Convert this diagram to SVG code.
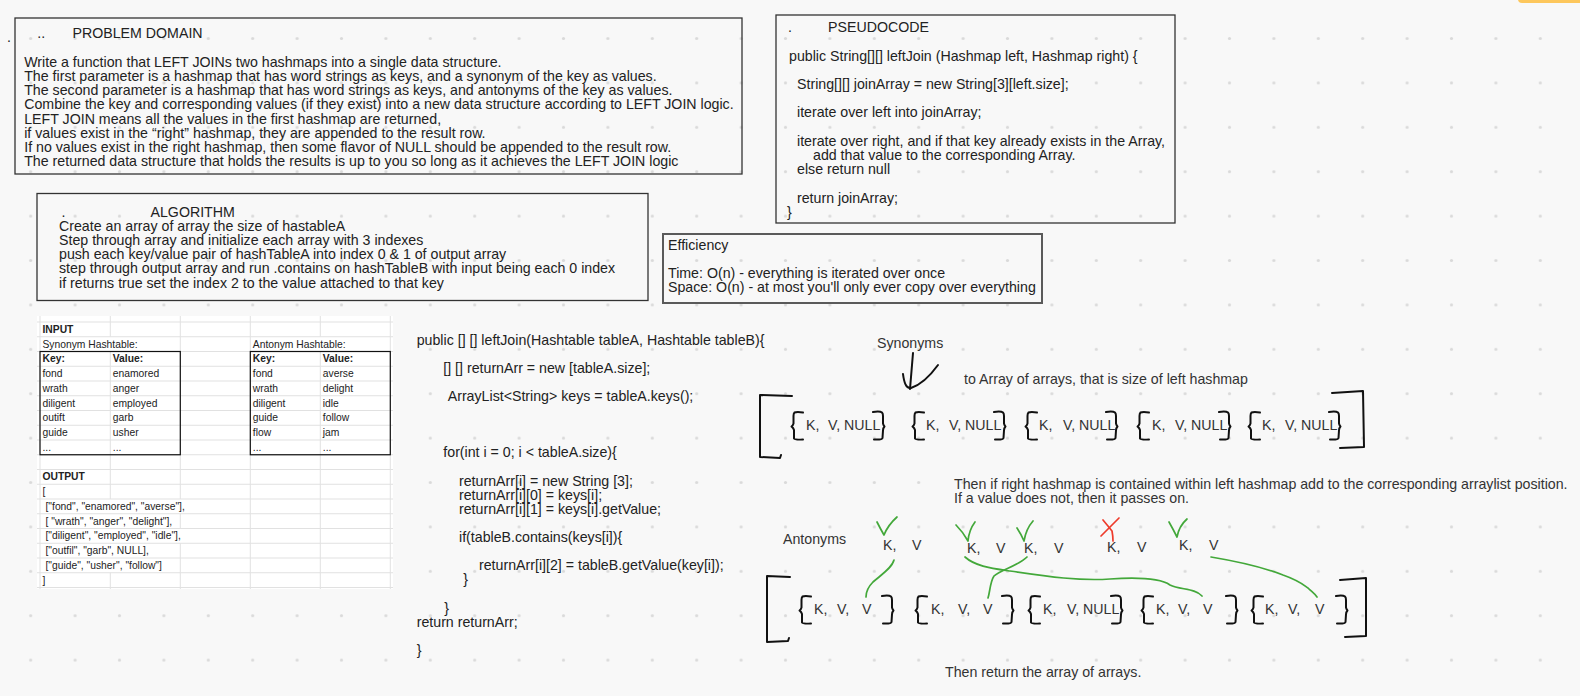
<svg xmlns="http://www.w3.org/2000/svg" xmlns:xlink="http://www.w3.org/1999/xlink" width="1580" height="696" viewBox="0 0 1580 696">
<style>
.t{font-family:"Liberation Sans",Arial,sans-serif;font-size:14.2px;fill:#222}
.k{font-family:"Liberation Sans",Arial,sans-serif;font-size:14.2px;fill:#333}
.s{font-family:"Liberation Sans",Arial,sans-serif;font-size:10.3px;fill:#222}
.b{font-weight:bold}
.box{fill:none;stroke:#333;stroke-width:1.3}
.ink{fill:none;stroke:#111;stroke-width:2;stroke-linecap:round;stroke-linejoin:round}
.grn{fill:none;stroke:#43a83a;stroke-width:1.7;stroke-linecap:round;stroke-linejoin:round}
.red{fill:none;stroke:#ee3b2b;stroke-width:1.7;stroke-linecap:round}
.grid{stroke:#e1e1e1;stroke-width:1;fill:none}
.tb{fill:none;stroke:#111;stroke-width:1.2}
</style>
<defs>
<pattern id="dots" patternUnits="userSpaceOnUse" x="8.5" y="16.3" width="44.4" height="44.4">
<circle cx="22.2" cy="22.2" r="1.6" fill="#dadada"/>
</pattern>
<path id="lb" d="M13,1.5 Q7,0.5 4.5,1.5 Q3.5,2.5 3.5,5 L3.5,12.5 Q3,14.5 1.5,15.5 Q3.5,17 4,19 L4,27.5 Q4.5,29 13,28.5"/>
<path id="rb" d="M0,1 Q7,0 9,1.5 Q10,2.5 10,5 L10,12.5 Q10.5,14.5 11.5,15.5 Q10,17 10,19.5 L9.5,27 Q9,29 1,28.5"/>
</defs>
<rect width="1580" height="696" fill="#f8f8f8"/>
<rect width="1580" height="696" fill="url(#dots)"/>
<rect x="1518" y="-6" width="70" height="9" rx="4" fill="#fdc75c"/>

<g id="problem-domain">
<rect class="box" x="15" y="18" width="727" height="156"/>
<text class="t" x="7" y="41.5">.</text>
<text class="t" x="37.3" y="38.3">..</text>
<text class="t" x="72.5" y="38.3">PROBLEM DOMAIN</text>
<text class="t" x="24.2" y="66.7">Write a function that LEFT JOINs two hashmaps into a single data structure.</text>
<text class="t" x="24.2" y="80.9">The first parameter is a hashmap that has word strings as keys, and a synonym of the key as values.</text>
<text class="t" x="24.2" y="95.1">The second parameter is a hashmap that has word strings as keys, and antonyms of the key as values.</text>
<text class="t" x="24.2" y="109.3">Combine the key and corresponding values (if they exist) into a new data structure according to LEFT JOIN logic.</text>
<text class="t" x="24.2" y="123.5">LEFT JOIN means all the values in the first hashmap are returned,</text>
<text class="t" x="24.2" y="137.7">if values exist in the “right” hashmap, they are appended to the result row.</text>
<text class="t" x="24.2" y="151.9">If no values exist in the right hashmap, then some flavor of NULL should be appended to the result row.</text>
<text class="t" x="24.2" y="166.1">The returned data structure that holds the results is up to you so long as it achieves the LEFT JOIN logic</text>
</g>

<g id="pseudocode">
<rect class="box" x="776" y="15" width="399" height="208"/>
<text class="t" x="788" y="32.2">.</text>
<text class="t" x="828" y="32.2">PSEUDOCODE</text>
<text class="t" x="789" y="60.6">public String[][] leftJoin (Hashmap left, Hashmap right) {</text>
<text class="t" x="797" y="89">String[][] joinArray = new String[3][left.size];</text>
<text class="t" x="797" y="117.4">iterate over left into joinArray;</text>
<text class="t" x="797" y="145.8">iterate over right, and if that key already exists in the Array,</text>
<text class="t" x="813" y="160">add that value to the corresponding Array.</text>
<text class="t" x="797" y="174.2">else return null</text>
<text class="t" x="797" y="202.6">return joinArray;</text>
<text class="t" x="787" y="216.8">}</text>
</g>

<g id="algorithm">
<rect class="box" x="37" y="193.5" width="611" height="107"/>
<text class="t" x="61.6" y="216.6">.</text>
<text class="t" x="150.5" y="216.6">ALGORITHM</text>
<text class="t" x="59" y="230.8">Create an array of array the size of hastableA</text>
<text class="t" x="59" y="245">Step through array and initialize each array with 3 indexes</text>
<text class="t" x="59" y="259.2">push each key/value pair of hashTableA into index 0 &amp; 1 of output array</text>
<text class="t" x="59" y="273.4">step through output array and run .contains on hashTableB with input being each 0 index</text>
<text class="t" x="59" y="287.6">if returns true set the index 2 to the value attached to that key</text>
</g>

<g id="efficiency">
<rect x="663" y="234" width="379" height="69" fill="none" stroke="#5a5a5a" stroke-width="2"/>
<text class="t" x="668" y="249.5">Efficiency</text>
<text class="t" x="668" y="277.9">Time: O(n) - everything is iterated over once</text>
<text class="t" x="668" y="292.1">Space: O(n) - at most you'll only ever copy over everything</text>
</g>

<g id="spreadsheet">
<rect x="37" y="316" width="356" height="273" fill="#ffffff"/>
<path class="grid" d="M37,322H393M37,336.75H393M37,351.5H393M37,366.25H393M37,381H393M37,395.75H393M37,410.5H393M37,425.25H393M37,440H393M37,454.75H393M37,469.5H393M37,484.25H393M37,499H393M37,513.75H393M37,528.5H393M37,543.25H393M37,558H393M37,572.75H393M37,587.5H393"/>
<path class="grid" d="M40,316V589M250.3,316V589M390.3,316V589M110.3,316V336.75M110.3,351.5V499M110.3,572.75V589M180.3,316V499M180.3,513.75V528.5M180.3,543.25V589M320.3,316V336.75M320.3,351.5V589"/>
<rect class="tb" x="40" y="351.5" width="140.3" height="103.25"/>
<rect class="tb" x="250.3" y="351.5" width="140" height="103.25"/>
<text class="s b" x="42.5" y="332.9">INPUT</text>
<text class="s" x="42.5" y="347.65">Synonym Hashtable:</text>
<text class="s" x="252.8" y="347.65">Antonym Hashtable:</text>
<text class="s b" x="42.5" y="362.4">Key:</text>
<text class="s b" x="112.8" y="362.4">Value:</text>
<text class="s b" x="252.8" y="362.4">Key:</text>
<text class="s b" x="322.8" y="362.4">Value:</text>
<text class="s" x="42.5" y="377.15">fond</text>
<text class="s" x="112.8" y="377.15">enamored</text>
<text class="s" x="252.8" y="377.15">fond</text>
<text class="s" x="322.8" y="377.15">averse</text>
<text class="s" x="42.5" y="391.9">wrath</text>
<text class="s" x="112.8" y="391.9">anger</text>
<text class="s" x="252.8" y="391.9">wrath</text>
<text class="s" x="322.8" y="391.9">delight</text>
<text class="s" x="42.5" y="406.65">diligent</text>
<text class="s" x="112.8" y="406.65">employed</text>
<text class="s" x="252.8" y="406.65">diligent</text>
<text class="s" x="322.8" y="406.65">idle</text>
<text class="s" x="42.5" y="421.4">outift</text>
<text class="s" x="112.8" y="421.4">garb</text>
<text class="s" x="252.8" y="421.4">guide</text>
<text class="s" x="322.8" y="421.4">follow</text>
<text class="s" x="42.5" y="436.15">guide</text>
<text class="s" x="112.8" y="436.15">usher</text>
<text class="s" x="252.8" y="436.15">flow</text>
<text class="s" x="322.8" y="436.15">jam</text>
<text class="s" x="42.5" y="450.9">...</text>
<text class="s" x="112.8" y="450.9">...</text>
<text class="s" x="252.8" y="450.9">...</text>
<text class="s" x="322.8" y="450.9">...</text>
<text class="s b" x="42.5" y="480.4">OUTPUT</text>
<text class="s" x="42.5" y="495.15">[</text>
<text class="s" x="45.5" y="509.9">["fond", "enamored", "averse"],</text>
<text class="s" x="45.5" y="524.65">[ "wrath", "anger", "delight"],</text>
<text class="s" x="45.5" y="539.4">["diligent", "employed", "idle"],</text>
<text class="s" x="45.5" y="554.15">["outfil", "garb", NULL],</text>
<text class="s" x="45.5" y="568.9">["guide", "usher", "follow"]</text>
<text class="s" x="42.5" y="583.65">]</text>
</g>

<g id="code">
<text class="t" x="416.7" y="344.6">public [] [] leftJoin(Hashtable tableA, Hashtable tableB){</text>
<text class="t" x="443.3" y="372.8">[] [] returnArr = new [tableA.size];</text>
<text class="t" x="447.7" y="401">ArrayList&lt;String&gt; keys = tableA.keys();</text>
<text class="t" x="443.3" y="457.4">for(int i = 0; i &lt; tableA.size){</text>
<text class="t" x="459" y="485.6">returnArr[i] = new String [3];</text>
<text class="t" x="459" y="499.7">returnArr[i][0] = keys[i];</text>
<text class="t" x="459" y="513.8">returnArr[i][1] = keys[i].getValue;</text>
<text class="t" x="459" y="542">if(tableB.contains(keys[i]){</text>
<text class="t" x="479" y="570.2">returnArr[i][2] = tableB.getValue(key[i]);</text>
<text class="t" x="463.3" y="584.3">}</text>
<text class="t" x="444.3" y="612.5">}</text>
<text class="t" x="416.7" y="626.6">return returnArr;</text>
<text class="t" x="416.7" y="654.8">}</text>
</g>

<g id="synonyms-sketch">
<text class="k" x="877" y="348">Synonyms</text>
<text class="k" x="964" y="384">to Array of arrays, that is size of left hashmap</text>
<path class="ink" d="M792,396 L760,395 L760,457 L780,458 L781,455"/>
<path class="ink" d="M1332,393 L1363,391 L1364,447 L1340,448"/>
<use href="#lb" class="ink" x="790" y="411"/>
<text class="k" x="806" y="430">K,</text><text class="k" x="828" y="430">V, NULL</text>
<use href="#rb" class="ink" x="873" y="411"/>
<use href="#lb" class="ink" x="911" y="411"/>
<text class="k" x="926" y="430">K,</text><text class="k" x="949" y="430">V, NULL</text>
<use href="#rb" class="ink" x="994" y="411"/>
<use href="#lb" class="ink" x="1024" y="411"/>
<text class="k" x="1039" y="430">K,</text><text class="k" x="1063" y="430">V, NULL</text>
<use href="#rb" class="ink" x="1106" y="411"/>
<use href="#lb" class="ink" x="1136" y="411"/>
<text class="k" x="1152" y="430">K,</text><text class="k" x="1175" y="430">V, NULL</text>
<use href="#rb" class="ink" x="1219" y="411"/>
<use href="#lb" class="ink" x="1247" y="411"/>
<text class="k" x="1262" y="430">K,</text><text class="k" x="1285" y="430">V, NULL</text>
<use href="#rb" class="ink" x="1329" y="411"/>
</g>

<g id="antonyms-sketch">
<text class="k" x="954" y="489">Then if right hashmap is contained within left hashmap add to the corresponding arraylist position.</text>
<text class="k" x="954" y="503.2">If a value does not, then it passes on.</text>
<text class="k" x="783" y="544">Antonyms</text>
<text class="k" x="883" y="550">K,</text><text class="k" x="912" y="550">V</text>
<text class="k" x="967" y="553">K,</text><text class="k" x="996" y="553">V</text>
<text class="k" x="1024" y="553">K,</text><text class="k" x="1054" y="553">V</text>
<text class="k" x="1107" y="552">K,</text><text class="k" x="1137" y="552">V</text>
<text class="k" x="1179" y="550">K,</text><text class="k" x="1209" y="550">V</text>
<path class="grn" d="M877,522 Q880,528 884,535 Q888,525 897,517"/>
<path class="grn" d="M956,525 Q963,532 968,541 Q969,530 975,522"/>
<path class="grn" d="M1017,528 Q1021,534 1024,541 Q1026,529 1033,521"/>
<path class="red" d="M1103,520 Q1108,526 1112,531 Q1113,536 1113,541"/>
<path class="red" d="M1119,518 Q1110,527 1101,536"/>
<path class="grn" d="M1169,522 Q1173,529 1177,537 Q1179,526 1187,519"/>
<path class="ink" d="M790,577 L767,576 L767,642 L788,641 L789,638"/>
<path class="ink" d="M1340,580 L1366,578 L1366,636 L1345,637"/>
<use href="#lb" class="ink" x="798" y="595"/>
<text class="k" x="814" y="614">K,</text><text class="k" x="837" y="614">V,</text><text class="k" x="862" y="614">V</text>
<use href="#rb" class="ink" x="882" y="595"/>
<use href="#lb" class="ink" x="914" y="595"/>
<text class="k" x="931" y="614">K,</text><text class="k" x="958" y="614">V,</text><text class="k" x="983" y="614">V</text>
<use href="#rb" class="ink" x="1002" y="595"/>
<use href="#lb" class="ink" x="1027" y="595"/>
<text class="k" x="1043" y="614">K,</text><text class="k" x="1067" y="614">V, NULL</text>
<use href="#rb" class="ink" x="1111" y="595"/>
<use href="#lb" class="ink" x="1140" y="595"/>
<text class="k" x="1156" y="614">K,</text><text class="k" x="1178" y="614">V,</text><text class="k" x="1203" y="614">V</text>
<use href="#rb" class="ink" x="1226" y="595"/>
<use href="#lb" class="ink" x="1250" y="595"/>
<text class="k" x="1265" y="614">K,</text><text class="k" x="1288" y="614">V,</text><text class="k" x="1315" y="614">V</text>
<use href="#rb" class="ink" x="1336" y="595"/>
<text class="k" x="945" y="677">Then return the array of arrays.</text>
</g>

<g id="connectors">
<path class="ink" d="M913,353 C912,365 911,377 910,389"/>
<path class="ink" d="M903,374 C904,382 906,389 911,388 C920,385 930,376 938,365"/>
<path class="grn" d="M894,560 C892,568 881,575 873,582 C867,588 866,592 866,597"/>
<path class="grn" d="M965,557 C975,566 990,568 1010,571 C1050,577 1080,581 1110,579 C1140,577 1160,578 1170,585 C1180,590 1195,588 1202,596"/>
<path class="grn" d="M1027,557 C1018,566 1000,570 994,576 C990,582 990,592 988,598"/>
<path class="grn" d="M1211,557 C1235,561 1260,566 1283,575 C1300,581 1305,586 1308,588 C1312,592 1314,593 1317,597"/>
</g>
</svg>
